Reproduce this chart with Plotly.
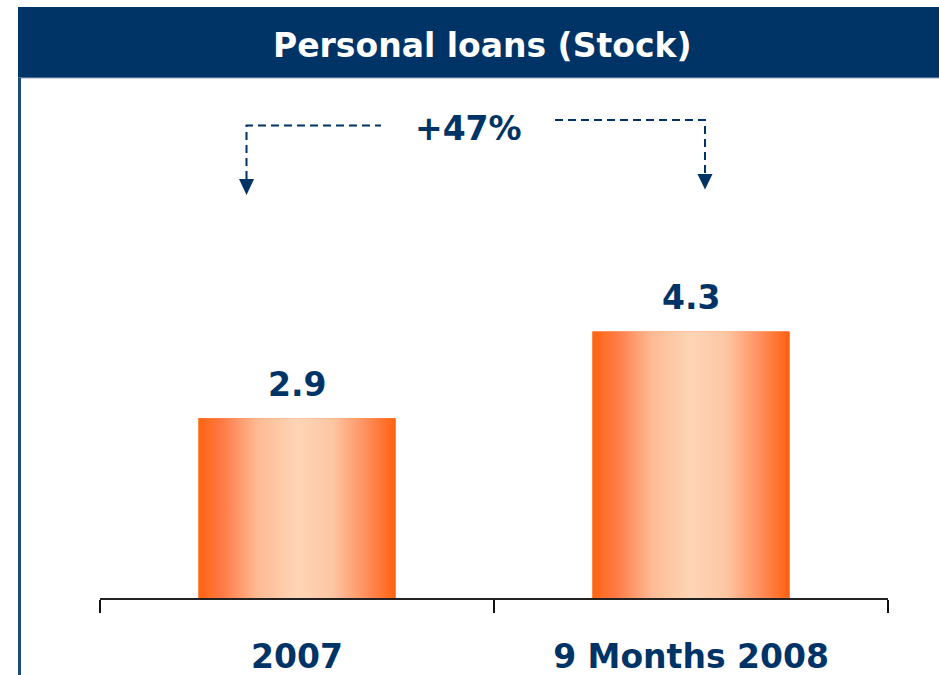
import plotly.graph_objects as go

categories = ["2007", "9 Months 2008"]
values = [2.9, 4.3]
value_labels = ["2.9", "4.3"]
growth_label = "+47%"
title_text = "Personal loans (Stock)"

NAVY = "#003366"
FONT = "DejaVu Sans"
ORANGE = "#FF6611"
GRAD = [[0.0, "#FF6410"], [0.12, "#FF7A45"], [0.3, "#FDBA94"],
        [0.5, "#FDD6B6"], [0.68, "#FDC6A3"], [0.86, "#FF8C58"], [1.0, "#FF6010"]]

W, H = 939, 675
# plot area in screen pixels
L, R, T, B = 100, 888, 80, 598
BAR_W = 0.5
PX_PER_UNIT = 62.0


def px(xp):
    return (xp - L) / (R - L)


def py(yp):
    return (B - yp) / (B - T)


fig = go.Figure()
fig.add_trace(go.Bar(x=categories, y=values, width=BAR_W,
                     marker=dict(color=ORANGE, line=dict(width=0)),
                     hoverinfo="skip", showlegend=False))

for i, v in enumerate(values):
    fig.add_trace(go.Scatter(
        x=[i - BAR_W / 2, i + BAR_W / 2, i + BAR_W / 2, i - BAR_W / 2, i - BAR_W / 2],
        y=[0, 0, v, v, 0], xaxis="x2", yaxis="y",
        mode="lines", line=dict(width=0), fill="toself",
        fillgradient=dict(type="horizontal", colorscale=GRAD),
        hoverinfo="skip", showlegend=False))

annotations = []
for i, (v, t) in enumerate(zip(values, value_labels)):
    annotations.append(dict(x=i, y=v, xref="x2", yref="y", text=f"<b>{t}</b>",
                            showarrow=False, yanchor="bottom", yshift=12,
                            font=dict(family=FONT, size=33, color=NAVY)))

annotations.append(dict(x=px(481.5), y=py(45), xref="paper", yref="paper",
                        text=f"<b>{title_text}</b>", showarrow=False,
                        xanchor="center", yanchor="middle",
                        font=dict(family=FONT, size=33, color="white")))
annotations.append(dict(x=px(468), y=py(128), xref="paper", yref="paper",
                        text=f"<b>{growth_label}</b>", showarrow=False,
                        xanchor="center", yanchor="middle",
                        font=dict(family=FONT, size=33, color=NAVY)))

shapes = [
    dict(type="rect", xref="paper", yref="paper", x0=px(18), x1=px(960),
         y0=py(78), y1=py(7), fillcolor=NAVY, line=dict(width=0), layer="above"),
    dict(type="line", xref="paper", yref="paper", x0=px(18), x1=px(960),
         y0=py(78), y1=py(78), line=dict(color="#9aaac0", width=1)),
    dict(type="line", xref="paper", yref="paper", x0=px(19.5), x1=px(19.5),
         y0=py(78), y1=py(700), line=dict(color="#1f4a7d", width=3)),
    dict(type="path", xref="paper", yref="paper",
         path=f"M {px(246.5)},{py(179)} L {px(246.5)},{py(125.5)} L {px(381)},{py(125.5)}",
         line=dict(color=NAVY, width=2, dash="8px,5px")),
    dict(type="path", xref="paper", yref="paper",
         path=f"M {px(555)},{py(120)} L {px(705)},{py(120)} L {px(705)},{py(174)}",
         line=dict(color=NAVY, width=2, dash="8px,5px")),
    dict(type="path", xref="paper", yref="paper",
         path=f"M {px(239)},{py(179)} L {px(254)},{py(179)} L {px(246.5)},{py(195)} Z",
         fillcolor=NAVY, line=dict(width=0)),
    dict(type="path", xref="paper", yref="paper",
         path=f"M {px(697.5)},{py(174)} L {px(712.5)},{py(174)} L {px(705)},{py(189.5)} Z",
         fillcolor=NAVY, line=dict(width=0)),
]

fig.update_layout(
    width=W, height=H,
    margin=dict(l=L, r=W - R, t=T, b=H - B, pad=0, autoexpand=False),
    paper_bgcolor="white", plot_bgcolor="white",
    showlegend=False,
    xaxis=dict(type="category", tickson="boundaries", ticks="outside", ticklen=13,
               tickwidth=2, tickcolor="#111111", showline=True, linecolor="#222222",
               linewidth=2, showgrid=False, zeroline=False, ticklabelstandoff=28,
               automargin=False,
               tickfont=dict(family=FONT, size=33, color=NAVY, weight="bold"),
               range=[-0.5, 1.5], fixedrange=True),
    xaxis2=dict(overlaying="x", range=[-0.5, 1.5], visible=False, fixedrange=True,
                automargin=False),
    yaxis=dict(range=[0, (B - T) / PX_PER_UNIT], visible=False, fixedrange=True,
               automargin=False),
    annotations=annotations,
    shapes=shapes,
    bargap=0.5,
)

fig.write_html("out.html", config=dict(displayModeBar=False, responsive=False),
               post_script="document.body.style.margin='0';document.body.style.overflow='hidden';")
